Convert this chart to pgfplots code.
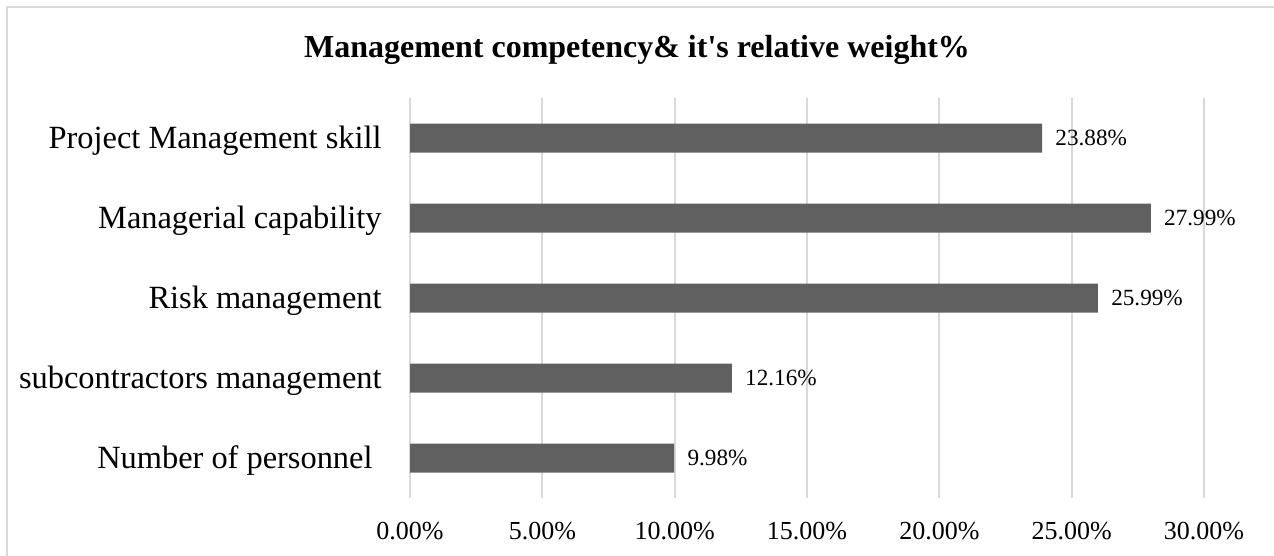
\documentclass[border=0pt]{standalone}
\usepackage{pgfplots}
\pgfplotsset{compat=1.18}
\usepackage{fontspec}
\setmainfont{Liberation Serif}[Ligatures=TeXOff]
\definecolor{barc}{RGB}{96,96,96}
\definecolor{gridc}{RGB}{217,217,217}
\begin{document}
\begin{tikzpicture}
\useasboundingbox (0,0) rectangle (637pt,-278pt);
\draw[gridc, line width=1pt] (3.5pt,-300pt) -- (3.5pt,-3.5pt) -- (660pt,-3.5pt);
\node[font=\fontsize{16}{19}\selectfont\bfseries, anchor=base, inner sep=0pt] at (318.5pt,-28.8pt) {Management competency\& it's relative weight\%};
\begin{axis}[
  at={(205pt,-249pt)}, anchor=south west,
  scale only axis, width=397pt, height=200pt,
  xbar, bar width=14.5pt, bar shift=0pt,
  xmin=0, xmax=30, ymin=-0.5, ymax=4.5,
  xtick={0,5,...,30},
  ytick={0,1,2,3,4},
  yticklabels={{Number of personnel\hspace*{4.5pt}},subcontractors management,Risk management,Managerial capability,Project Management skill},
  xmajorgrids, grid style={gridc, line width=0.9pt},
  axis line style={draw=none},
  major tick length=0pt,
  /pgf/number format/assume math mode=true,
  xticklabel={\pgfmathprintnumber[fixed,fixed zerofill,precision=2]{\tick}\%},
  xticklabel style={font=\fontsize{13}{15}\selectfont, anchor=base, inner sep=0pt, yshift=-20.5pt},
  yticklabel style={font=\fontsize{16.2}{19}\selectfont, anchor=base east, inner sep=0pt, xshift=-14pt, yshift=-5.3pt},
  nodes near coords={\pgfmathprintnumber[fixed,fixed zerofill,precision=2]{\pgfplotspointmeta}\%},
  nodes near coords style={font=\fontsize{11.6}{14}\selectfont, anchor=base west, inner sep=0pt, xshift=6.5pt, yshift=-3.9pt, text=black},
]
\addplot[fill=barc, draw=none] coordinates {(9.98,0) (12.16,1) (25.99,2) (27.99,3) (23.88,4)};
\end{axis}
\end{tikzpicture}
\end{document}
